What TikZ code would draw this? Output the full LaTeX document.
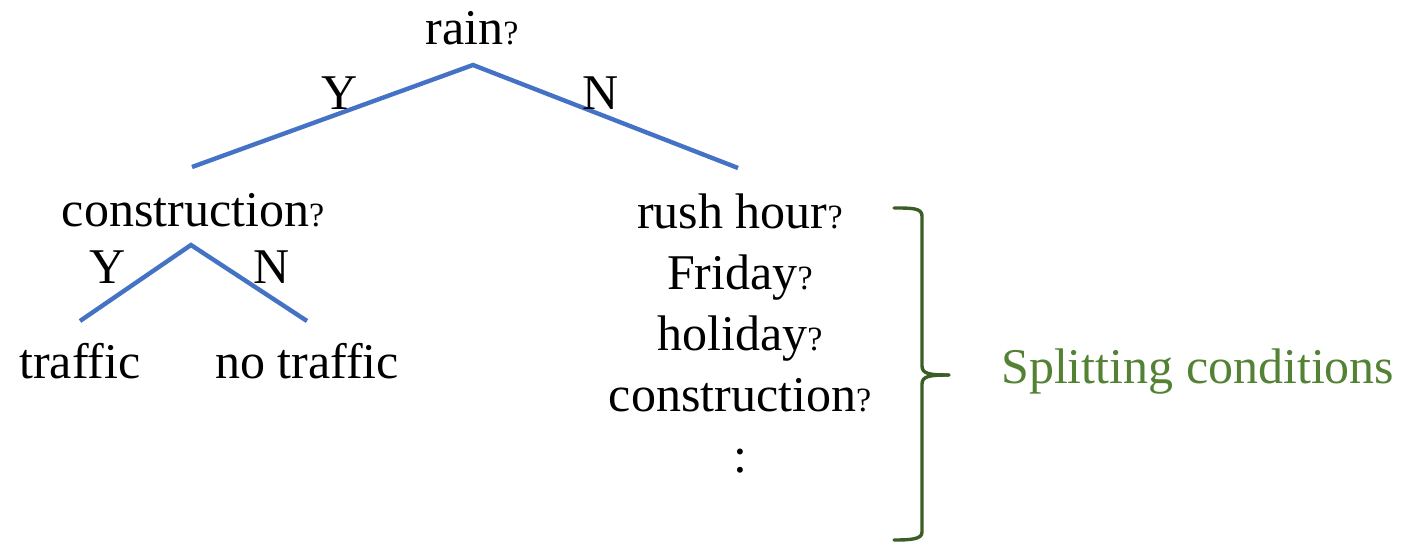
\documentclass[tikz,border=0pt]{standalone}
\usepackage{fontspec}
\setmainfont{Liberation Serif}
\definecolor{edgeblue}{HTML}{4472C4}
\definecolor{bracegreen}{HTML}{3B5E26}
\definecolor{labelgreen}{HTML}{548235}
\newcommand{\qm}{{\fontsize{34}{40}\selectfont ?}}
\begin{document}
\begin{tikzpicture}[x=1pt,y=-1pt,
  txt/.style={inner sep=0pt,anchor=base,font=\fontsize{50}{60}\selectfont},
  edge/.style={draw=edgeblue,line width=4.4pt},
  bracestyle/.style={draw=bracegreen,line width=3.4pt,line cap=round}]
\useasboundingbox (0,0) rectangle (1424,543);

% tree text
\node[txt] (rain) at (472,45) {rain\qm};
\node[txt] (cons) at (193,226) {construction\qm};
\node[txt] (traf) at (80,378) {traffic};
\node[txt] (notraf) at (307,378) {no traffic};

% branch points and leaves of the edges
\coordinate (r0) at (473,65);
\coordinate (r1) at (192,167);
\coordinate (r2) at (738,168);
\coordinate (c0) at (191,245);
\coordinate (c1) at (80,321);
\coordinate (c2) at (307,321);

\draw[edge] (r1) -- (r0) -- (r2);
\draw[edge] (c1) -- (c0) -- (c2);

% branch labels
\node[txt] (ry) at (340,109) {Y};
\node[txt] (rn) at (601,109) {N};
\node[txt] (cy) at (108,283) {Y};
\node[txt] (cn) at (272,283) {N};

% candidate conditions
\node[txt] (c1t) at (740,228) {rush hour\qm};
\node[txt] (c2t) at (740,289) {Friday\qm};
\node[txt] (c3t) at (740,350) {holiday\qm};
\node[txt] (c4t) at (740,411) {construction\qm};
\node[txt] (c5t) at (740,472) {:};

% brace
\coordinate (bt) at (894,208);
\coordinate (bm) at (949,375);
\coordinate (bb) at (894,540);
\draw[bracestyle] (bt) .. controls (912,208) and (922,208) .. (922,216)
  -- (922,366) .. controls (922,374) and (930,375) .. (bm);
\draw[bracestyle] (bm) .. controls (930,375) and (922,376) .. (922,384)
  -- (922,532) .. controls (922,539) and (912,540) .. (bb);

\node[txt,text=labelgreen,anchor=base west] (split) at (1001,383) {Splitting conditions};
\end{tikzpicture}
\end{document}
